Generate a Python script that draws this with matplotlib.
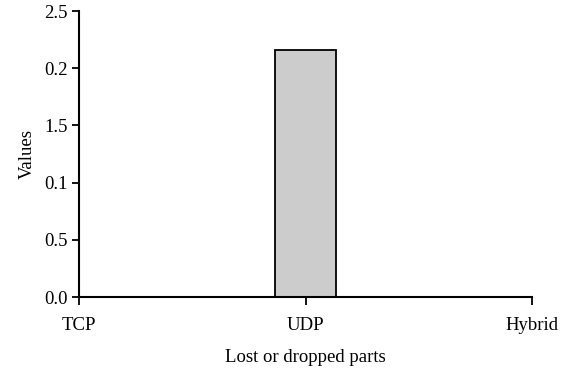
import numpy as np
import matplotlib
matplotlib.use('Agg')
import matplotlib.pyplot as plt

plt.rcParams['font.family'] = ['Liberation Serif', 'DejaVu Serif']

categories = ['TCP', 'UDP', 'Hybrid']
values = [0.0, 2.16, 0.0]
ytick_vals = [0.0, 0.5, 1.0, 1.5, 2.0, 2.5]
ytick_labels = ['0.0', '0.5', '0.1', '1.5', '0.2', '2.5']

fs = 13.5

fig = plt.figure(figsize=(5.66, 3.72), dpi=100)
ax = fig.add_axes([0.1396, 0.2016, 0.8004, 0.7688])

x = np.arange(len(categories))
for xi, v in zip(x, values):
    if v > 0:
        ax.bar(xi, v, width=0.27, color='#cccccc', edgecolor='black', linewidth=1.3, zorder=1)

ax.set_xlim(0, 2)
ax.set_ylim(0, 2.5)
ax.set_xticks(x)
ax.set_xticklabels(categories, fontsize=fs)
ax.set_yticks(ytick_vals)
ax.set_yticklabels(ytick_labels, fontsize=fs)

for s in ['top', 'right']:
    ax.spines[s].set_visible(False)
for s in ['left', 'bottom']:
    ax.spines[s].set_linewidth(1.5)
    ax.spines[s].set_zorder(3)

ax.tick_params(axis='x', length=5.5, width=1.3, pad=9)
ax.tick_params(axis='y', length=5, width=1.3, pad=3)

ax.set_ylabel('Values', fontsize=fs, labelpad=6)
ax.set_xlabel('Lost or dropped parts', fontsize=fs, labelpad=11)

fig.savefig('out.png', dpi=100)
